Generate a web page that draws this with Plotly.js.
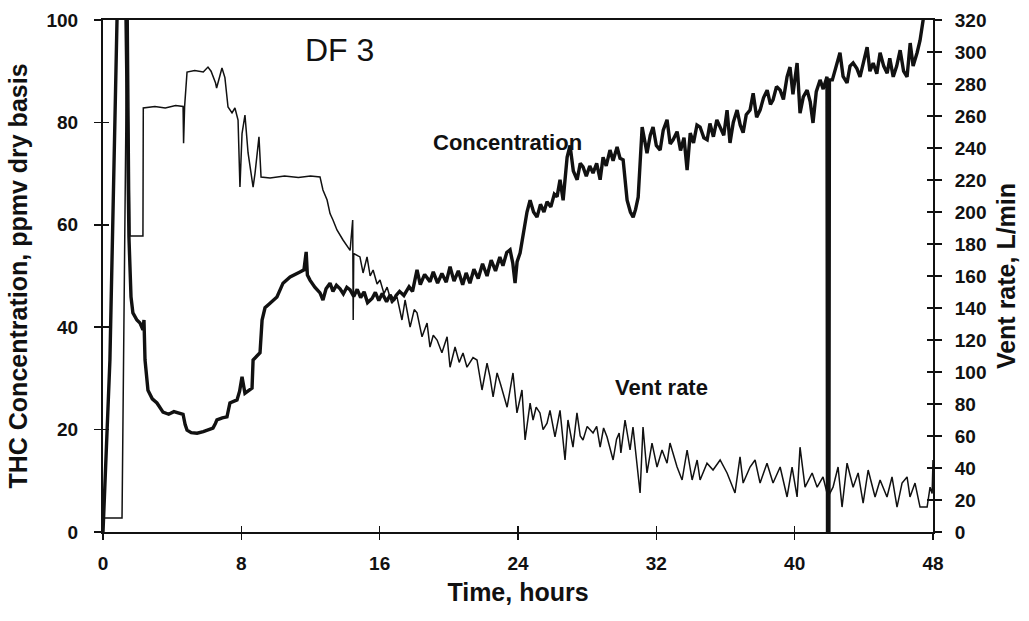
<!DOCTYPE html>
<html>
<head>
<meta charset="utf-8">
<script src="https://cdn.plot.ly/plotly-3.0.1.min.js"></script>
<style>
  html, body { margin: 0; padding: 0; background: #ffffff; }
  #chart { width: 1029px; height: 621px; }
</style>
</head>
<body>
<div id="chart"></div>
<script>
// Time axis ticks (hours)
const timeTicks = [0, 8, 16, 24, 32, 40, 48];
const concTicks = [0, 20, 40, 60, 80, 100];
const ventTicks = [0, 20, 40, 60, 80, 100, 120, 140, 160, 180, 200, 220, 240, 260, 280, 300, 320];

// THC concentration (ppmv dry basis)
const concTime = [0, 0.4, 0.81, 0.86, 1.3, 1.33, 1.5, 1.62, 1.73, 1.96, 2.14, 2.31, 2.37, 2.43, 2.54, 2.6, 2.85, 3.12, 3.47, 3.8, 4.1, 4.45, 4.63, 4.75, 4.86, 5.1, 5.44, 5.8, 6.1, 6.36, 6.5, 6.59, 6.9, 7.17, 7.34, 7.75, 7.9, 8.04, 8.21, 8.4, 8.62, 8.68, 8.85, 9.08, 9.2, 9.37, 9.66, 10.06, 10.41, 10.82, 11.39, 11.62, 11.75, 11.82, 11.97, 12.25, 12.55, 12.72, 12.9, 13.13, 13.3, 13.5, 13.71, 13.9, 14.1, 14.29, 14.5, 14.7, 14.9, 15.1, 15.3, 15.56, 15.75, 15.95, 16.15, 16.4, 16.6, 16.8, 16.95, 17.15, 17.4, 17.7, 17.9, 18.16, 18.35, 18.6, 18.91, 19.1, 19.35, 19.6, 19.85, 20.07, 20.3, 20.55, 20.8, 21.0, 21.22, 21.45, 21.7, 21.95, 22.21, 22.45, 22.7, 22.95, 23.13, 23.35, 23.54, 23.7, 23.83, 23.95, 24.12, 24.3, 24.52, 24.7, 24.9, 25.1, 25.3, 25.5, 25.68, 25.9, 26.1, 26.26, 26.43, 26.61, 26.84, 27.01, 27.2, 27.42, 27.6, 27.76, 27.95, 28.15, 28.34, 28.55, 28.75, 28.92, 29.1, 29.32, 29.5, 29.73, 29.9, 30.08, 30.2, 30.31, 30.5, 30.66, 30.8, 30.95, 31.18, 31.46, 31.65, 31.81, 32.0, 32.22, 32.4, 32.62, 32.8, 32.97, 33.2, 33.4, 33.6, 33.78, 33.96, 34.15, 34.35, 34.53, 34.75, 34.94, 35.1, 35.3, 35.5, 35.69, 35.9, 36.09, 36.26, 36.45, 36.67, 36.85, 37.02, 37.2, 37.42, 37.6, 37.8, 38.0, 38.2, 38.41, 38.6, 38.75, 38.95, 39.16, 39.35, 39.56, 39.73, 39.9, 40.14, 40.31, 40.5, 40.72, 40.9, 41.06, 41.25, 41.47, 41.65, 41.87, 41.9, 41.98, 42.01, 42.18, 42.4, 42.62, 42.8, 43.03, 43.2, 43.38, 43.6, 43.78, 44.0, 44.19, 44.35, 44.54, 44.75, 44.94, 45.15, 45.35, 45.5, 45.7, 45.9, 46.1, 46.3, 46.5, 46.68, 46.85, 47.08, 47.25, 47.43, 47.6, 48];
const concValue = [0, 33.6, 100, 108, 108, 100, 57.6, 45.9, 42.8, 41.4, 40.8, 39.5, 41.4, 33.6, 29.7, 27.7, 26.0, 25.2, 23.4, 23.0, 23.5, 23.2, 23.0, 21.0, 19.9, 19.4, 19.3, 19.6, 19.9, 20.3, 21.2, 21.9, 22.3, 22.5, 25.2, 25.8, 27.5, 30.3, 27.1, 27.6, 28.1, 33.6, 34.2, 35.0, 41.4, 43.8, 44.7, 45.9, 48.6, 49.8, 50.8, 51.2, 54.7, 50.2, 49.2, 47.8, 46.7, 45.3, 47.5, 48.6, 47.0, 48.2, 47.5, 46.5, 47.8, 47.3, 46.0, 47.4, 45.8, 46.9, 44.8, 45.6, 46.8, 45.2, 46.6, 45.0, 46.3, 45.2, 46.2, 47.0, 46.2, 47.9, 47.0, 51.2, 48.3, 50.3, 48.9, 50.8, 48.6, 50.5, 48.8, 51.8, 49.0, 51.0, 48.3, 50.6, 48.6, 51.3, 49.5, 52.4, 50.0, 53.1, 51.0, 53.7, 52.0, 54.6, 55.1, 52.5, 48.6, 52.8, 54.5, 58.0, 62.5, 64.8, 62.5, 61.5, 64.0, 62.5, 64.5, 63.5, 66.0, 65.5, 68.8, 64.8, 73.2, 75.5, 70.5, 68.8, 72.0, 71.3, 69.5, 71.5, 70.1, 72.0, 68.8, 73.2, 71.5, 74.6, 72.5, 75.2, 73.0, 72.7, 68.0, 64.8, 62.5, 61.5, 63.0, 65.4, 79.1, 74.0, 77.5, 79.1, 75.5, 74.6, 78.5, 80.5, 75.8, 76.6, 78.2, 74.5, 77.0, 70.7, 77.9, 76.0, 79.5, 79.1, 77.0, 76.6, 79.8, 77.2, 80.5, 79.1, 77.5, 82.4, 76.0, 80.0, 82.4, 79.5, 78.0, 81.5, 82.4, 85.7, 81.0, 82.4, 84.8, 86.3, 83.5, 84.4, 87.0, 86.3, 84.5, 88.9, 90.8, 85.5, 91.6, 81.8, 85.0, 86.3, 84.0, 79.9, 86.0, 88.3, 86.5, 88.9, 0, 0, 88.3, 88.3, 91.0, 93.6, 89.0, 87.7, 91.0, 91.6, 90.5, 88.9, 92.0, 94.7, 90.0, 91.6, 89.5, 93.6, 91.0, 89.6, 92.5, 88.9, 91.0, 94.1, 90.0, 88.9, 95.5, 91.0, 93.6, 96.0, 100, 106, 106];

// Vent rate (L/min)
const ventTime = [0, 1.1, 1.39, 1.45, 1.56, 2.31, 2.33, 3.0, 3.6, 4.2, 4.63, 4.66, 4.72, 4.86, 5.3, 5.8, 6.07, 6.25, 6.51, 6.57, 6.88, 7.05, 7.23, 7.46, 7.63, 7.81, 7.92, 8.04, 8.21, 8.39, 8.68, 8.79, 9.02, 9.14, 9.66, 10.5, 11.3, 12.0, 12.55, 12.72, 12.96, 13.13, 13.3, 13.53, 13.88, 14.1, 14.29, 14.44, 14.47, 14.5, 14.86, 15.04, 15.27, 15.45, 15.62, 15.85, 16.02, 16.25, 16.43, 16.7, 17.0, 17.29, 17.47, 17.76, 18.0, 18.16, 18.45, 18.74, 18.91, 19.1, 19.32, 19.6, 19.9, 20.07, 20.36, 20.6, 20.82, 21.05, 21.4, 21.63, 21.92, 22.21, 22.38, 22.56, 22.79, 23.0, 23.13, 23.37, 23.71, 23.94, 24.23, 24.41, 24.7, 24.87, 25.05, 25.27, 25.45, 25.68, 25.85, 26.14, 26.43, 26.72, 26.89, 27.18, 27.41, 27.6, 27.76, 28.0, 28.34, 28.55, 28.75, 28.95, 29.15, 29.5, 29.7, 29.85, 29.95, 30.19, 30.48, 30.65, 31.06, 31.23, 31.46, 31.75, 32.04, 32.33, 32.62, 32.79, 33.2, 33.49, 33.78, 34.07, 34.36, 34.53, 34.93, 35.28, 35.69, 36.09, 36.55, 36.84, 37.02, 37.42, 37.71, 38.0, 38.4, 38.75, 39.16, 39.56, 39.85, 40.14, 40.31, 40.6, 41.01, 41.3, 41.64, 41.93, 42.22, 42.51, 42.74, 43.03, 43.38, 43.67, 43.96, 44.25, 44.65, 44.94, 45.34, 45.63, 45.92, 46.21, 46.5, 46.67, 46.96, 47.25, 47.66, 47.83, 47.95, 48];
const ventValue = [8.75, 8.75, 330, 330, 185, 185, 265, 266, 265, 266.5, 266, 243, 266, 287.5, 288.5, 287.5, 290.6, 288, 280.6, 277.5, 290, 284, 265.6, 261.9, 265, 257.5, 215.6, 249, 260.6, 236.9, 215.6, 224, 247, 221.9, 221.3, 222.5, 221.5, 222.5, 221.9, 213.75, 207.5, 199, 195, 188.75, 182.5, 179, 176, 195, 132.5, 174, 171.9, 161.9, 171.9, 160, 163.75, 155, 157.5, 149, 153, 143, 147, 132.5, 145, 128, 139, 137, 122, 130.6, 115.6, 123, 120, 112, 122, 103, 115.6, 106, 111.9, 103, 109, 107.5, 88.75, 105.6, 96.9, 84.4, 99.4, 92, 86.9, 78, 99.4, 74.4, 88.75, 57.5, 80.6, 70, 78, 74.4, 64, 68, 76, 59.4, 76, 45, 70, 53, 74.4, 60, 57.5, 66, 61.9, 66, 53, 65, 59.4, 45, 58, 61.9, 49.4, 70, 51.25, 65.6, 24.4, 65.6, 36.9, 55.6, 40.6, 51.25, 43, 55.6, 40.6, 32.5, 51.25, 32.5, 45, 32.5, 43, 38.75, 45, 36.9, 24.4, 46.9, 30.6, 40.6, 45, 30.6, 43, 30.6, 40.6, 21.9, 40.6, 21.9, 53, 28, 36.9, 28, 34.4, 21.9, 28, 40.6, 15.6, 43, 28, 36.9, 18, 38.75, 21.9, 32.5, 21.9, 34.4, 15.6, 30.6, 34.4, 21.9, 30.6, 15.6, 15.6, 28, 24, 45];

const FONT = 'Liberation Sans, Arial, Helvetica, sans-serif';

const traces = [
  { x: concTime, y: concValue, type: 'scatter', mode: 'lines', xaxis: 'x', yaxis: 'y',
    line: { color: '#111111', width: 3.4 }, hoverinfo: 'skip' },
  { x: ventTime, y: ventValue, type: 'scatter', mode: 'lines', xaxis: 'x', yaxis: 'y2',
    line: { color: '#111111', width: 1.5 }, hoverinfo: 'skip' },
  // empty traces so the inward-tick overlay axes get drawn (crossing ticks)
  { x: [], y: [], type: 'scatter', mode: 'lines', xaxis: 'x2', yaxis: 'y3', hoverinfo: 'skip' },
  { x: [], y: [], type: 'scatter', mode: 'lines', xaxis: 'x', yaxis: 'y4', hoverinfo: 'skip' }
];

const tickFont = { family: FONT, size: 19, color: '#111111', weight: 'bold' };
const titleFont = { family: FONT, size: 25, color: '#111111', weight: 'bold' };

const layout = {
  width: 1029, height: 621,
  margin: { l: 103, r: 96, t: 20, b: 89, pad: 0 },
  paper_bgcolor: '#ffffff', plot_bgcolor: '#ffffff',
  showlegend: false,
  font: { family: FONT, color: '#111111' },
  xaxis: {
    range: [0, 48], tickvals: timeTicks, ticktext: timeTicks.map(String),
    ticks: 'outside', ticklen: 6, tickwidth: 1.5, tickcolor: '#111111',
    showline: true, linewidth: 2, linecolor: '#111111', mirror: true,
    showgrid: false, zeroline: false, tickfont: tickFont, ticklabelstandoff: 7,
    title: { text: 'Time, hours', font: titleFont, standoff: 11 }
  },
  xaxis2: {
    range: [0, 48], tickvals: timeTicks, overlaying: 'x', anchor: 'y', side: 'bottom',
    ticks: 'inside', ticklen: 6, tickwidth: 1.5, tickcolor: '#111111',
    showticklabels: false, showline: false, showgrid: false, zeroline: false
  },
  yaxis: {
    range: [0, 100], tickvals: concTicks, ticktext: concTicks.map(String),
    ticks: 'outside', ticklen: 7, tickwidth: 1.5, tickcolor: '#111111',
    showline: true, linewidth: 2, linecolor: '#111111',
    showgrid: false, zeroline: false, tickfont: tickFont, ticklabelstandoff: 12,
    title: { text: 'THC Concentration, ppmv dry basis', font: titleFont, standoff: 12 }
  },
  yaxis2: {
    range: [0, 320], tickvals: ventTicks, ticktext: ventTicks.map(String),
    overlaying: 'y', side: 'right', anchor: 'x',
    ticks: 'outside', ticklen: 7, tickwidth: 1.5, tickcolor: '#111111',
    showline: true, linewidth: 2, linecolor: '#111111',
    showgrid: false, zeroline: false, tickfont: tickFont, ticklabelstandoff: 9,
    title: { text: 'Vent rate, L/min', font: titleFont, standoff: 12 }
  },
  yaxis3: {
    range: [0, 100], tickvals: concTicks, overlaying: 'y', side: 'left', anchor: 'x',
    ticks: 'inside', ticklen: 6, tickwidth: 1.5, tickcolor: '#111111',
    showticklabels: false, showline: false, showgrid: false, zeroline: false
  },
  yaxis4: {
    range: [0, 320], tickvals: ventTicks, overlaying: 'y', side: 'right', anchor: 'x',
    ticks: 'inside', ticklen: 6, tickwidth: 1.5, tickcolor: '#111111',
    showticklabels: false, showline: false, showgrid: false, zeroline: false
  },
  annotations: [
    { x: 13.7, y: 94.1, xref: 'x', yref: 'y', text: 'DF 3', showarrow: false,
      font: { family: FONT, size: 32, color: '#111111' } },
    { x: 23.42, y: 76.0, xref: 'x', yref: 'y', text: 'Concentration', showarrow: false,
      font: { family: FONT, size: 22, color: '#111111', weight: 'bold' } },
    { x: 32.27, y: 28.3, xref: 'x', yref: 'y', text: 'Vent rate', showarrow: false,
      font: { family: FONT, size: 22, color: '#111111', weight: 'bold' } }
  ]
};

Plotly.newPlot('chart', traces, layout, { staticPlot: true, displayModeBar: false });
</script>
</body>
</html>
